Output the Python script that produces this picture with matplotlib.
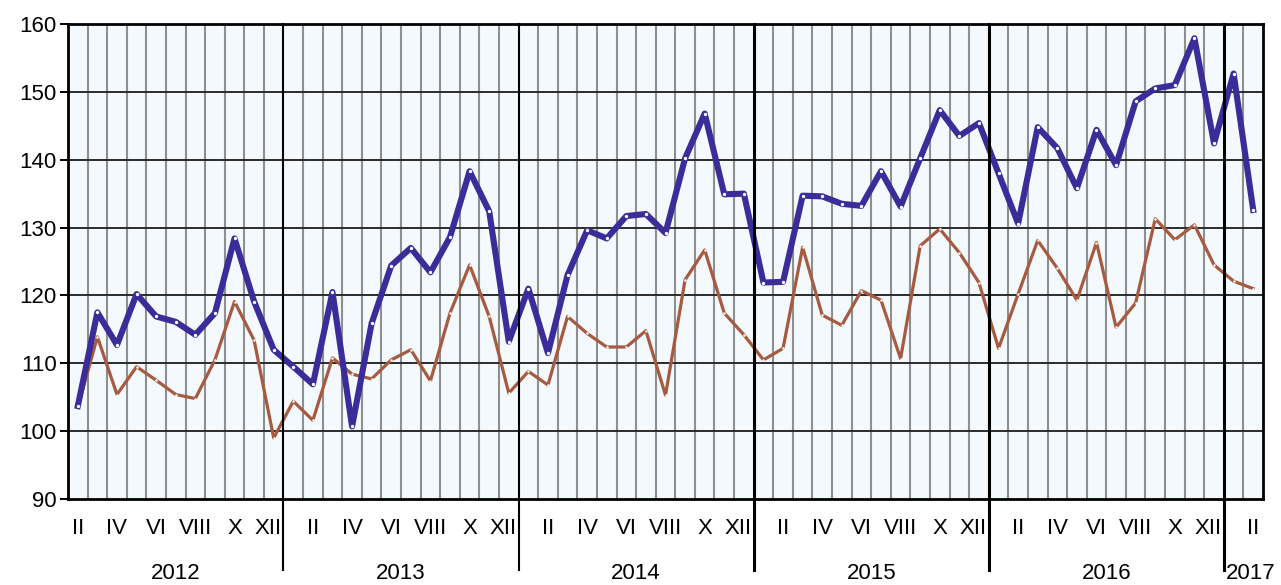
import matplotlib
matplotlib.use("Agg")
import matplotlib.pyplot as plt
import matplotlib.transforms as mtransforms

plt.rcParams['font.family'] = ['Liberation Sans', 'DejaVu Sans']

# monthly values, Feb 2012 .. Feb 2017
blue = [103.7, 117.5, 112.7, 120.2, 116.9, 116.1, 114.2, 117.4, 128.4, 119.1, 112.0,
        109.5, 106.9, 120.5, 100.7, 115.9, 124.4, 127.0, 123.4, 128.6, 138.3, 132.4, 113.2,
        121.0, 111.5, 123.0, 129.6, 128.4, 131.7, 132.0, 129.2, 140.2, 146.8, 134.9, 135.0,
        121.9, 122.0, 134.7, 134.6, 133.5, 133.2, 138.3, 133.1, 140.2, 147.3, 143.5, 145.4,
        138.0, 130.6, 144.8, 141.7, 135.8, 144.4, 139.2, 148.6, 150.5, 151.0, 157.9, 142.4,
        152.7, 132.6]
brown = [103.5, 113.9, 105.4, 109.5, 107.5, 105.4, 104.8, 110.5, 119.1, 113.4, 99.0,
         104.4, 101.6, 110.8, 108.4, 107.7, 110.5, 112.0, 107.4, 117.4, 124.5, 116.9, 105.6,
         108.8, 106.8, 116.9, 114.4, 112.4, 112.4, 114.8, 105.3, 122.3, 126.7, 117.4, 114.2,
         110.5, 112.2, 127.1, 117.1, 115.6, 120.7, 119.3, 110.7, 127.3, 129.8, 126.3, 121.9,
         112.2, 120.2, 128.1, 124.0, 119.3, 127.8, 115.3, 118.9, 131.3, 128.2, 130.4, 124.5,
         122.1, 121.0]
years = ['2012', '2013', '2014', '2015', '2016', '2017']
roman = {2: 'II', 4: 'IV', 6: 'VI', 8: 'VIII', 10: 'X', 12: 'XII'}
first_month = 2  # series starts in February 2012

n = len(blue)
x = list(range(n))
months = [(first_month - 1 + i) % 12 + 1 for i in x]

fig = plt.figure(figsize=(12.81, 5.85), dpi=100)
ax = fig.add_axes([68 / 1281, 86 / 585, 1195 / 1281, 475 / 585])
ax.set_facecolor('#f3f9fc')

# month columns
for i in range(n - 1):
    if months[i + 1] != 1:
        ax.axvline(i + 0.5, color='#8f8f8f', lw=1.5, zorder=1)
for v in range(100, 160, 10):
    ax.axhline(v, color='#2b2b2b', lw=1.4, zorder=1)

ax.plot(x, brown, color='#a65a40', lw=2.3, zorder=3,
        marker='o', ms=1.8, mfc='white', mec='none')
ax.plot(x, blue, color='#3b2c9a', lw=4.4, zorder=4,
        marker='o', ms=2.4, mfc='white', mec='none')

ax.set_xlim(-0.5, n - 0.5)
ax.set_ylim(90, 160)
ax.set_yticks(range(90, 161, 10))
ax.tick_params(axis='y', length=6, width=1.4, pad=2, labelsize=16)

tick_pos = [i for i in x if months[i] in roman]
# XII sits a little left so it clears the year line
ax.set_xticks([i - 0.3 if months[i] == 12 else i for i in tick_pos])
ax.set_xticklabels([roman[months[i]] for i in tick_pos])
ax.tick_params(axis='x', length=0, pad=14, labelsize=16)

for s in ax.spines.values():
    s.set_linewidth(2)
    s.set_color('black')

# year separators and year labels
trans = mtransforms.blended_transform_factory(ax.transData, ax.transAxes)
starts = [i for i in x if months[i] == 1]
for k, b in enumerate(starts):
    ax.plot([b - 0.5, b - 0.5], [1, -0.15], transform=trans, color='black',
            lw=1.5 if k < 2 else 2.2, clip_on=False, zorder=5)
bounds = [-0.5] + [b - 0.5 for b in starts] + [n - 0.5]
for k, yr in enumerate(years):
    if k < len(years) - 1:
        ax.text((bounds[k] + bounds[k + 1]) / 2, -0.157, yr, transform=trans,
                ha='center', va='center', fontsize=16)
    else:
        ax.text(bounds[k] + 0.1, -0.157, yr, transform=trans,
                ha='left', va='center', fontsize=16)

fig.savefig('out.png', dpi=100)
